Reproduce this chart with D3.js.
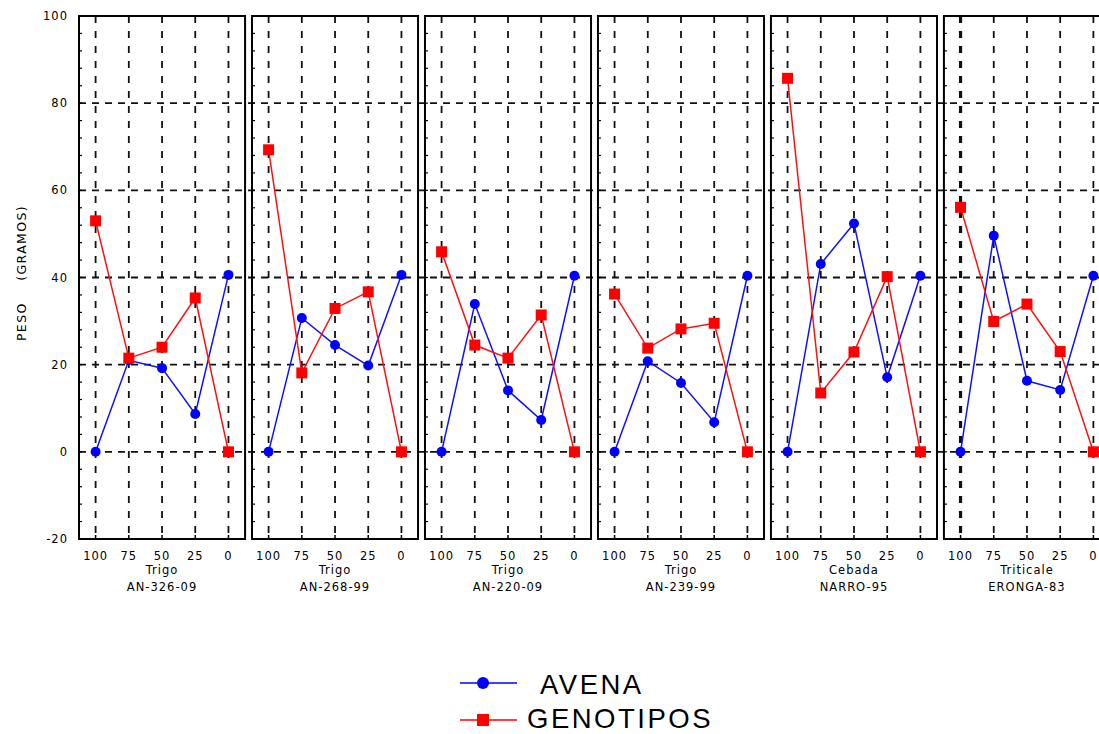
<!DOCTYPE html>
<html>
<head>
<meta charset="utf-8">
<script src="https://cdn.jsdelivr.net/npm/d3@7"></script>
<style>
  body { margin: 0; background: #fff; }
  svg { display: block; }
  .tick-label { font-family: "DejaVu Sans", sans-serif; font-size: 11.5px; letter-spacing: 1px; fill: #000; }
</style>
</head>
<body>
<div id="chart"></div>
<script>
// data
var levels = ["100", "75", "50", "25", "0"]
var crops = ["Trigo", "Trigo", "Trigo", "Trigo", "Cebada", "Triticale"]
var genotypes = ["AN-326-09", "AN-268-99", "AN-220-09", "AN-239-99", "NARRO-95", "ERONGA-83"]
var avena = [
  [0, 21.0, 19.2, 8.7, 40.6],
  [0, 30.7, 24.5, 19.8, 40.6],
  [0, 33.9, 14.1, 7.3, 40.4],
  [0, 20.8, 15.8, 6.8, 40.4],
  [0, 43.1, 52.4, 17.1, 40.4],
  [0, 49.6, 16.3, 14.2, 40.4]
]
var genotipos = [
  [53.0, 21.5, 24.0, 35.3, 0],
  [69.3, 18.1, 32.9, 36.7, 0],
  [45.9, 24.5, 21.5, 31.4, 0],
  [36.2, 23.8, 28.2, 29.5, 0],
  [85.7, 13.5, 22.9, 40.2, 0],
  [56.1, 29.9, 33.9, 23.0, 0]
]
var yTicks = [100, 80, 60, 40, 20, 0, -20]
var yGrid = [80, 60, 40, 20, 0]
var yMinor = d3.range(-20, 101, 4)
var seriesNames = ["AVENA", "GENOTIPOS"]

var W = 1099, H = 734
var plot = { left: 79, right: 1110, top: 16, bottom: 539 }

var svg = d3.select("#chart").append("svg")
    .attr("width", W)
    .attr("height", H)

var panel = d3.scaleBand()
    .domain(genotypes)
    .range([plot.left, plot.right])
    .paddingInner(0.04)
var x = d3.scalePoint()
    .domain(levels)
    .range([0, panel.bandwidth()])
    .padding(0.5)
var y = d3.scaleLinear()
    .domain([-20, 100])
    .range([plot.bottom, plot.top])

// horizontal grid lines run across all panels
svg.append("g").selectAll("line")
    .data(yGrid)
    .enter().append("line")
    .attr("x1", plot.left).attr("x2", W)
    .attr("y1", d => y(d)).attr("y2", d => y(d))
    .attr("stroke", "#111")
    .attr("stroke-width", 1.8)
    .attr("stroke-dasharray", "7,6")

// y tick labels (first panel only)
svg.append("g").selectAll("text")
    .data(yTicks)
    .enter().append("text")
    .attr("class", "tick-label")
    .attr("x", plot.left - 11)
    .attr("y", d => y(d))
    .attr("dy", "0.36em")
    .attr("text-anchor", "end")
    .text(d => d)

// y axis title
svg.append("text")
    .attr("transform", "translate(21," + 273 + ") rotate(-90)")
    .attr("text-anchor", "middle")
    .attr("dy", "0.36em")
    .style("font-family", "DejaVu Sans, sans-serif")
    .style("font-size", "12.5px")
    .style("letter-spacing", "1.4px")
    .style("white-space", "pre")
    .text("PESO    (GRAMOS)")

var panels = svg.selectAll(".panel")
    .data(genotypes)
    .enter().append("g")
    .attr("class", "panel")
    .attr("transform", d => "translate(" + panel(d) + ",0)")

panels.each(function(g, i) {
  var p = d3.select(this)
  var bw = panel.bandwidth()

  // vertical dashed grid lines
  p.selectAll(".vgrid")
    .data(levels)
    .enter().append("line")
    .attr("class", "vgrid")
    .attr("x1", d => x(d)).attr("x2", d => x(d))
    .attr("y1", plot.top).attr("y2", plot.bottom)
    .attr("stroke", "#111")
    .attr("stroke-width", (d, j) => (i == genotypes.length - 1 && j == 0) ? 3.2 : 1.8)
    .attr("stroke-dasharray", "7,8")

  // minor ticks on left border
  p.selectAll(".ytick")
    .data(yMinor)
    .enter().append("line")
    .attr("x1", 0).attr("x2", 3)
    .attr("y1", d => y(d)).attr("y2", d => y(d))
    .attr("stroke", "#000")
    .attr("stroke-width", 1.2)

  // bottom ticks
  p.selectAll(".xtick")
    .data(levels)
    .enter().append("line")
    .attr("x1", d => x(d)).attr("x2", d => x(d))
    .attr("y1", plot.bottom).attr("y2", plot.bottom - 4)
    .attr("stroke", "#000")
    .attr("stroke-width", 1.5)

  // frame
  p.append("rect")
    .attr("x", 0).attr("y", plot.top)
    .attr("width", bw).attr("height", plot.bottom - plot.top)
    .attr("fill", "none")
    .attr("stroke", "#000")
    .attr("stroke-width", 2)

  // x labels
  p.selectAll(".xlab")
    .data(levels)
    .enter().append("text")
    .attr("class", "tick-label")
    .attr("x", d => x(d))
    .attr("y", 556)
    .attr("dy", "0.36em")
    .attr("text-anchor", "middle")
    .text(d => d)

  p.append("text")
    .attr("class", "tick-label")
    .attr("x", bw / 2)
    .attr("y", 570)
    .attr("dy", "0.36em")
    .attr("text-anchor", "middle")
    .text(crops[i])
  p.append("text")
    .attr("class", "tick-label")
    .attr("x", bw / 2)
    .attr("y", 587)
    .attr("dy", "0.36em")
    .attr("text-anchor", "middle")
    .text(g)

  var line = d3.line()
    .x((d, j) => x(levels[j]))
    .y(d => y(d))

  // AVENA
  p.append("path")
    .datum(avena[i])
    .attr("d", line)
    .attr("fill", "none")
    .attr("stroke", "#1010ff")
    .attr("stroke-width", 1.5)
  p.selectAll(".av")
    .data(avena[i])
    .enter().append("circle")
    .attr("cx", (d, j) => x(levels[j]))
    .attr("cy", d => y(d))
    .attr("r", 5)
    .attr("fill", "#0000ff")

  // GENOTIPOS
  p.append("path")
    .datum(genotipos[i])
    .attr("d", line)
    .attr("fill", "none")
    .attr("stroke", "#ff1010")
    .attr("stroke-width", 1.5)
  p.selectAll(".ge")
    .data(genotipos[i])
    .enter().append("rect")
    .attr("x", (d, j) => x(levels[j]) - 5.5)
    .attr("y", d => y(d) - 5.5)
    .attr("width", 11).attr("height", 11)
    .attr("fill", "#ff0000")
})

// legend
var legend = svg.append("g").attr("transform", "translate(460,683)")
var colors = ["#0000ff", "#ff0000"]
var textBase = [11, 8]
seriesNames.forEach(function(name, i) {
  var row = legend.append("g").attr("transform", "translate(0," + (i * 37) + ")")
  row.append("line")
    .attr("x1", 0).attr("x2", 57)
    .attr("stroke", colors[i])
    .attr("stroke-width", 1.5)
  if (i == 0) {
    row.append("circle").attr("cx", 23).attr("r", 6).attr("fill", colors[i])
  } else {
    row.append("rect").attr("x", 17).attr("y", -6).attr("width", 12).attr("height", 12).attr("fill", colors[i])
  }
  row.append("text")
    .attr("x", i == 0 ? 80 : 67)
    .attr("y", textBase[i])
    .style("font-family", "Liberation Sans, Arial, sans-serif")
    .style("font-size", "27.5px")
    .style("letter-spacing", "2.5px")
    .text(name)
})
</script>
</body>
</html>
